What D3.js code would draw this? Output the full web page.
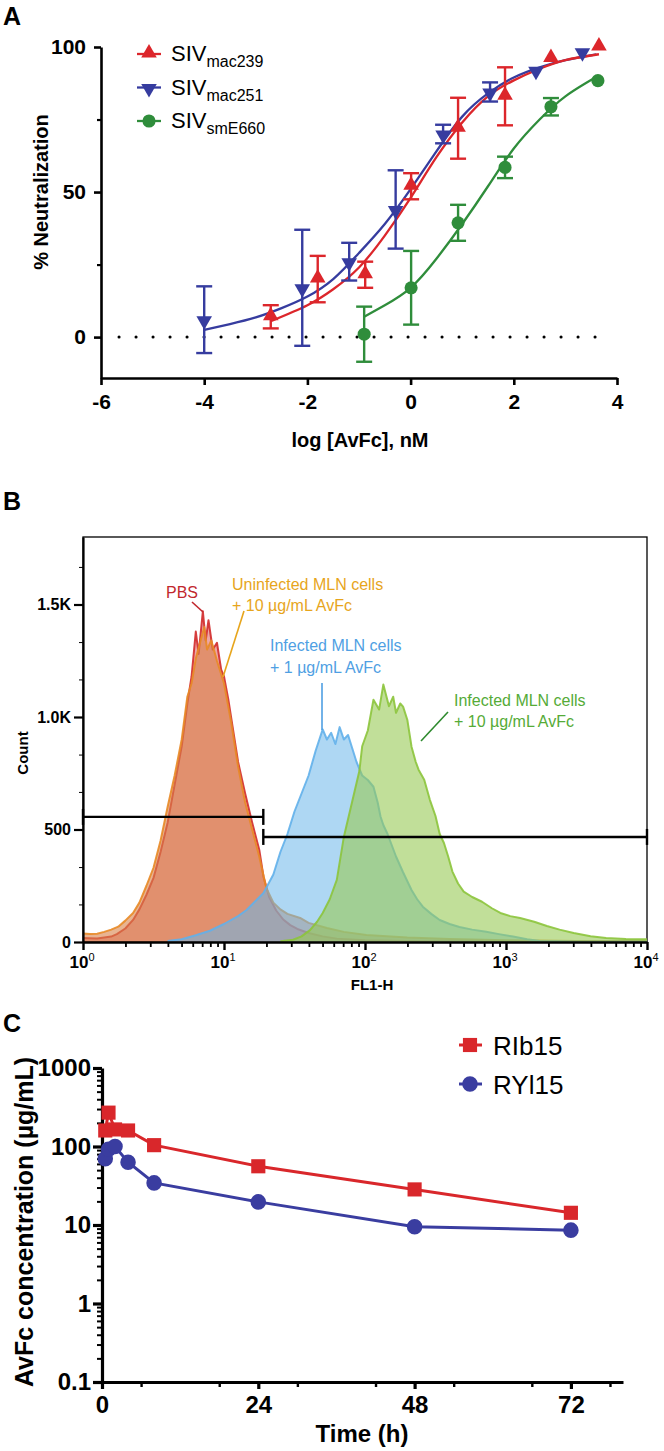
<!DOCTYPE html>
<html><head><meta charset="utf-8">
<script src="https://cdn.jsdelivr.net/npm/d3@7"></script>
<style>body{margin:0;background:#fff}svg{display:block}</style>
</head><body>
<svg id="c" width="664" height="1451"></svg>
<script>
// ---------------- DATA ----------------
// Panel A: neutralization (x = log10 [AvFc] nM, y = % neutralization, err = SD)
const mac239X = [-2.71, -1.80, -0.88, 0.01, 0.92, 1.83, 2.72, 3.65];
const mac239Y = [7, 20, 21.5, 52, 72, 83, 96, 100];
const mac239Err = [4, 8, 4.5, 4.5, 10.5, 10, 0, 0];
const mac251X = [-4.0, -2.1, -1.19, -0.29, 0.63, 1.54, 2.43, 3.33];
const mac251Y = [6, 17, 26, 44, 70, 84.5, 92, 98.4];
const mac251Err = [11.5, 20, 6.5, 13.5, 3.2, 3.3, 0, 0];
const smE660X = [-0.9, 0.01, 0.92, 1.83, 2.72, 3.63];
const smE660Y = [1, 17, 39.4, 58.5, 79.4, 88.4];
const smE660Err = [9.5, 12.7, 6.2, 3.7, 3, 0];
// fitted curves
const fit239X = [-2.71, -2, -1.5, -1, -0.5, 0, 0.5, 1, 1.5, 2, 2.5, 3, 3.65];
const fit239Y = [5.5, 11, 16.5, 24, 35, 48, 62, 74, 83, 88.5, 92.5, 95.5, 97.5];
const fit251X = [-4, -3.5, -3, -2.5, -2, -1.5, -1, -0.5, 0, 0.5, 1, 1.5, 2, 2.5, 3, 3.6];
const fit251Y = [2.5, 4.5, 6.8, 10, 14, 20, 29, 39, 51, 64, 76, 84, 89.5, 93, 95.5, 97.5];
const fitE660X = [-0.9, -0.5, 0, 0.5, 1, 1.5, 2, 2.5, 3, 3.63];
const fitE660Y = [7, 11, 17, 27, 39, 52, 65, 75, 83, 90];
const seriesA = ["SIV|mac239", "SIV|mac251", "SIV|smE660"];
const xTicksA = [-6, -4, -2, 0, 2, 4];
const yTicksA = [0, 50, 100];
const yMinorA = [25, 75];

// Panel B: flow histograms (log10 FL1-H, count)
const pbsHist = [[0,18],[0.1,16],[0.2,24],[0.24,35],[0.3,60],[0.355,98],[0.4,145],[0.45,210],[0.5,285],[0.55,400],[0.6,530],[0.65,700],[0.7,870],[0.74,1060],[0.77,1180],[0.8,1380],[0.82,1280],[0.85,1470],[0.87,1340],[0.89,1430],[0.92,1300],[0.95,1330],[0.98,1210],[1.0,1180],[1.03,1080],[1.06,960],[1.1,800],[1.15,660],[1.2,530],[1.25,410],[1.28,290],[1.32,200],[1.37,140],[1.42,100],[1.47,75],[1.52,58],[1.6,40],[1.7,25],[1.8,15],[2.0,8],[2.3,4],[3,2],[4,2]];
const uninfHist = [[0,38],[0.05,36],[0.1,37],[0.15,45],[0.2,55],[0.25,68],[0.3,95],[0.355,129],[0.4,175],[0.45,250],[0.5,330],[0.55,450],[0.6,600],[0.65,740],[0.7,900],[0.74,1090],[0.77,1150],[0.8,1260],[0.83,1330],[0.86,1400],[0.88,1300],[0.91,1340],[0.95,1250],[1.0,1150],[1.05,980],[1.1,780],[1.15,620],[1.2,500],[1.25,380],[1.3,240],[1.35,175],[1.4,145],[1.45,125],[1.54,107],[1.6,85],[1.73,62],[1.85,45],[2.01,31],[2.3,20],[2.6,13],[3.0,8],[3.5,5],[4,4]];
const inf1Hist = [[0.6,5],[0.7,12],[0.8,30],[0.9,50],[1.0,80],[1.1,115],[1.16,142],[1.22,180],[1.28,218],[1.35,300],[1.4,400],[1.45,480],[1.5,580],[1.55,660],[1.6,740],[1.65,850],[1.7,945],[1.73,900],[1.76,930],[1.79,880],[1.82,955],[1.85,900],[1.88,920],[1.91,860],[1.94,800],[1.98,740],[2.02,720],[2.06,690],[2.09,620],[2.11,558],[2.13,520],[2.16,480],[2.22,380],[2.27,310],[2.33,231],[2.37,190],[2.41,157],[2.47,125],[2.53,98],[2.6,80],[2.67,67],[2.76,55],[2.86,46],[2.95,35],[3.05,24],[3.15,12],[3.24,5],[3.5,2],[4,2]];
const inf10Hist = [[1.4,3],[1.49,10],[1.55,25],[1.61,53],[1.66,90],[1.7,129],[1.75,190],[1.8,276],[1.85,467],[1.9,600],[1.93,680],[1.96,760],[1.98,870],[2.02,940],[2.06,1077],[2.1,1033],[2.13,1144],[2.17,1048],[2.2,1090],[2.22,1019],[2.25,1060],[2.27,1046],[2.3,988],[2.33,868],[2.36,800],[2.38,766],[2.42,721],[2.46,632],[2.5,560],[2.53,480],[2.56,440],[2.59,380],[2.62,313],[2.66,260],[2.7,224],[2.76,200],[2.83,179],[2.9,150],[2.96,129],[3.03,115],[3.1,107],[3.2,90],[3.29,71],[3.38,55],[3.48,40],[3.6,26],[3.71,18],[3.85,13],[4,12]];
const gatesB = [[1, 19, 556], [19, 10000, 467]];
const yTicksB = [0, 500, 1000, 1500];
const yTickLabelsB = ["0", "500", "1.0K", "1.5K"];
const yMinorB = [167, 333, 667, 833, 1167, 1333, 1667];
const xDecadesB = [0, 1, 2, 3, 4];

// Panel C: pharmacokinetics
const pkTimes = [0.5, 1, 2, 4, 8, 24, 48, 72];
const rib15 = [160, 270, 165, 160, 104, 56, 28.4, 14.3];
const ryl15 = [70, 92, 100, 63, 34.4, 19.7, 9.5, 8.6];
const seriesC = ["RIb15", "RYl15"];
const xTicksC = [0, 24, 48, 72];
const yTicksC = [0.1, 1, 10, 100, 1000];
const yTickLabelsC = ["0.1", "1", "10", "100", "1000"];

// ---------------- DRAW ----------------
const svg = d3.select("#c");
const NARROW = "'Liberation Sans Narrow','Arial Narrow','Liberation Sans',Arial,sans-serif";
const SANS = "'Liberation Sans',Arial,Helvetica,sans-serif";
const RED = "#dc262b", BLUE = "#363c9f", GREEN = "#2f8d3b";

function letter(t, x, y) {
  svg.append("text").attr("x", x).attr("y", y).text(t)
    .attr("font-family", SANS).attr("font-weight", "bold").attr("font-size", 25);
}
function styleAxis(g, w, fs, font) {
  g.select(".domain").attr("stroke-width", w).attr("stroke", "#000");
  g.selectAll(".tick line").attr("stroke-width", w).attr("stroke", "#000");
  g.selectAll(".tick text").attr("font-family", font || NARROW).attr("font-weight", "bold")
    .attr("font-size", fs).attr("fill", "#000");
}

// ===== Panel A =====
letter("A", 3, 25);
const xA = d3.scaleLinear().domain([-6, 4]).range([101, 617]);
const yA = d3.scaleLinear().domain([-14.1, 100]).range([378, 47]);
const gA = svg.append("g");

gA.append("line").attr("x1", xA.range()[0] + 18).attr("x2", xA.range()[1] - 6)
  .attr("y1", yA(0)).attr("y2", yA(0)).attr("stroke", "#000").attr("stroke-width", 3)
  .attr("stroke-linecap", "round").attr("stroke-dasharray", "0.1,16.9");

const axA = gA.append("g").attr("transform", `translate(0,${yA.range()[0]})`)
  .call(d3.axisBottom(xA).tickValues(xTicksA).tickSize(7).tickSizeOuter(0).tickPadding(9)
    .tickFormat(d => String(d)));
styleAxis(axA, 2.6, 21);
const ayA = gA.append("g").attr("transform", `translate(${xA.range()[0]},0)`)
  .call(d3.axisLeft(yA).tickValues(yTicksA).tickSize(7).tickSizeOuter(0).tickPadding(8));
styleAxis(ayA, 2.6, 21);
gA.append("g").attr("transform", `translate(${xA.range()[0]},0)`)
  .call(d3.axisLeft(yA).tickValues(yMinorA).tickSize(4).tickFormat(""))
  .call(g => { g.select(".domain").remove(); g.selectAll("line").attr("stroke-width", 2.2); });

gA.append("text").attr("transform", `translate(48,192) rotate(-90)`).attr("text-anchor", "middle")
  .attr("font-family", SANS).attr("font-weight", "bold").attr("font-size", 20).text("% Neutralization");
gA.append("text").attr("x", 360).attr("y", 447).attr("text-anchor", "middle")
  .attr("font-family", SANS).attr("font-weight", "bold").attr("font-size", 20).text("log [AvFc], nM");

const triUp = d3.symbol().type(d3.symbolTriangle).size(105);
const circ = d3.symbol().type(d3.symbolCircle).size(135);
const curveLine = d3.line().x(d => xA(d[0])).y(d => yA(d[1])).curve(d3.curveNatural);

const setsA = [
  { name: seriesA[1], X: mac251X, Y: mac251Y, E: mac251Err, fX: fit251X, fY: fit251Y, color: BLUE, sym: "down" },
  { name: seriesA[0], X: mac239X, Y: mac239Y, E: mac239Err, fX: fit239X, fY: fit239Y, color: RED, sym: "up" },
  { name: seriesA[2], X: smE660X, Y: smE660Y, E: smE660Err, fX: fitE660X, fY: fitE660Y, color: GREEN, sym: "circle" }
];
setsA.forEach(s => {
  gA.append("path").attr("d", curveLine(s.fX.map((x, i) => [x, s.fY[i]])))
    .attr("fill", "none").attr("stroke", s.color).attr("stroke-width", 2.3);
});
setsA.forEach(s => {
  const g = gA.append("g");
  s.X.forEach((x, i) => {
    const e = s.E[i];
    if (e > 0) {
      const cx = xA(x);
      g.append("line").attr("x1", cx).attr("x2", cx).attr("y1", yA(s.Y[i] - e)).attr("y2", yA(s.Y[i] + e))
        .attr("stroke", s.color).attr("stroke-width", 2.4);
      [s.Y[i] - e, s.Y[i] + e].forEach(v => g.append("line").attr("x1", cx - 8).attr("x2", cx + 8)
        .attr("y1", yA(v)).attr("y2", yA(v)).attr("stroke", s.color).attr("stroke-width", 2.4));
    }
  });
  s.X.forEach((x, i) => {
    const p = g.append("path").attr("fill", s.color);
    if (s.sym === "circle") p.attr("d", circ()).attr("transform", `translate(${xA(x)},${yA(s.Y[i])})`);
    else if (s.sym === "up") p.attr("d", triUp()).attr("transform", `translate(${xA(x)},${yA(s.Y[i]) - 1})`);
    else p.attr("d", triUp()).attr("transform", `translate(${xA(x)},${yA(s.Y[i]) + 1}) rotate(180)`);
  });
});
const legA = [setsA[1], setsA[0], setsA[2]];
legA.forEach((s, i) => {
  const y = 54 + i * 33.5;
  gA.append("line").attr("x1", 137).attr("x2", 161).attr("y1", y).attr("y2", y)
    .attr("stroke", s.color).attr("stroke-width", 2.3);
  const p = gA.append("path").attr("fill", s.color);
  if (s.sym === "circle") p.attr("d", circ()).attr("transform", `translate(149,${y})`);
  else if (s.sym === "up") p.attr("d", triUp()).attr("transform", `translate(149,${y - 1})`);
  else p.attr("d", triUp()).attr("transform", `translate(149,${y + 1}) rotate(180)`);
  const [main, sub] = s.name.split("|");
  const t = gA.append("text").attr("x", 171).attr("y", y + 7).attr("font-family", SANS)
    .attr("font-size", 22).attr("fill", "#000");
  t.append("tspan").text(main);
  t.append("tspan").attr("dy", 6).attr("font-size", 16).text(sub);
});

// ===== Panel B =====
letter("B", 3, 510);
const xB = d3.scaleLog().domain([1, 1e4]).range([83, 647]);
const yB = d3.scaleLinear().domain([0, 1800]).range([942, 537]);
const gB = svg.append("g");
gB.append("rect").attr("x", xB.range()[0]).attr("y", yB.range()[1])
  .attr("width", xB.range()[1] - xB.range()[0]).attr("height", yB.range()[0] - yB.range()[1])
  .attr("fill", "none").attr("stroke", "#000").attr("stroke-width", 1.3);

const area = d3.area().x(d => xB(Math.pow(10, d[0]))).y0(yB(0)).y1(d => yB(d[1]));
const lineB = d3.line().x(d => xB(Math.pow(10, d[0]))).y(d => yB(d[1]));
const hists = [
  { data: pbsHist, fill: "#d63a3a", fo: 0.45, stroke: "#d22b2b" },
  { data: uninfHist, fill: "#d9824a", fo: 0.6, stroke: "#e88a26" },
  { data: inf1Hist, fill: "#6cb6ea", fo: 0.55, stroke: "#62b0ea" },
  { data: inf10Hist, fill: "#98c955", fo: 0.6, stroke: "#8cc43c" }
];
hists.forEach(h => {
  gB.append("path").attr("d", area(h.data)).attr("fill", h.fill).attr("fill-opacity", h.fo);
  gB.append("path").attr("d", lineB(h.data)).attr("fill", "none").attr("stroke", h.stroke)
    .attr("stroke-width", 2).attr("stroke-opacity", 0.9).attr("stroke-linejoin", "round");
});

gatesB.forEach(([a, b, lv]) => {
  const y = yB(lv);
  gB.append("line").attr("x1", xB(a)).attr("x2", xB(b)).attr("y1", y).attr("y2", y)
    .attr("stroke", "#000").attr("stroke-width", 2.4);
  [a, b].forEach(v => gB.append("line").attr("x1", xB(v)).attr("x2", xB(v)).attr("y1", y - 8).attr("y2", y + 8)
    .attr("stroke", "#000").attr("stroke-width", 2.4));
});

const ayB = gB.append("g").attr("transform", `translate(${xB.range()[0]},0)`)
  .call(d3.axisLeft(yB).tickValues(yTicksB).tickSize(9).tickSizeOuter(0).tickPadding(3)
    .tickFormat((d, i) => yTickLabelsB[i]));
styleAxis(ayB, 2.2, 16, SANS);
gB.append("g").attr("transform", `translate(${xB.range()[0]},0)`)
  .call(d3.axisLeft(yB).tickValues(yMinorB).tickSize(4).tickFormat(""))
  .call(g => { g.select(".domain").remove(); g.selectAll("line").attr("stroke-width", 1); });

const minorB = [];
xDecadesB.slice(0, -1).forEach(d => { for (let k = 2; k <= 9; k++) minorB.push(k * Math.pow(10, d)); });
gB.append("g").attr("transform", `translate(0,${yB.range()[0]})`)
  .call(d3.axisBottom(xB).tickValues(minorB).tickSize(5).tickFormat(""))
  .call(g => { g.select(".domain").remove(); g.selectAll("line").attr("stroke-width", 1.8); });
const axB = gB.append("g").attr("transform", `translate(0,${yB.range()[0]})`)
  .call(d3.axisBottom(xB).tickValues(xDecadesB.map(d => Math.pow(10, d))).tickSize(8).tickSizeOuter(0).tickFormat(""));
styleAxis(axB, 2.4, 16);
xDecadesB.forEach(d => {
  const t = gB.append("text").attr("x", xB(Math.pow(10, d)) - 1).attr("y", 968).attr("text-anchor", "middle")
    .attr("font-family", NARROW).attr("font-weight", "bold").attr("font-size", 17);
  t.append("tspan").text("10");
  t.append("tspan").attr("dy", -7).attr("font-size", 11).attr("font-weight", "normal").text(String(d));
});
gB.append("text").attr("x", 372).attr("y", 990).attr("text-anchor", "middle")
  .attr("font-family", SANS).attr("font-weight", "bold").attr("font-size", 15).text("FL1-H");
gB.append("text").attr("transform", "translate(28,753) rotate(-90)").attr("text-anchor", "middle")
  .attr("font-family", SANS).attr("font-weight", "bold").attr("font-size", 15).text("Count");

function ann(lines, x, y, color, lh) {
  const t = gB.append("text").attr("font-family", SANS).attr("font-size", 16).attr("fill", color);
  lines.forEach((l, i) => t.append("tspan").attr("x", x).attr("y", y + i * lh).text(l));
}
function lead(x1, y1, x2, y2, color) {
  gB.append("line").attr("x1", x1).attr("y1", y1).attr("x2", x2).attr("y2", y2)
    .attr("stroke", color).attr("stroke-width", 1.6);
}
ann(["PBS"], 166, 598, "#c1272d", 20);
lead(192, 602, 203, 612, "#c1272d");
ann(["Uninfected MLN cells", "+ 10 \u00b5g/mL AvFc"], 232, 590, "#e7a51c", 20.5);
lead(244, 611, 223, 677, "#e7a51c");
ann(["Infected MLN cells", "+ 1 \u00b5g/mL AvFc"], 270, 651, "#4f9fe3", 21.5);
lead(322, 683, 322, 730, "#4f9fe3");
ann(["Infected MLN cells", "+ 10 \u00b5g/mL AvFc"], 454, 706, "#55ab37", 21);
lead(448, 712, 421, 741, "#2e8a2e");

// ===== Panel C =====
letter("C", 3, 1032);
const xC = d3.scaleLinear().domain([0, 80]).range([102, 623]);
const yC = d3.scaleLog().domain([0.1, 1000]).range([1382, 1068]);
const gC = svg.append("g");
const minorC = [];
[0.1, 1, 10, 100].forEach(d => { for (let k = 2; k <= 9; k++) minorC.push(k * d); });
gC.append("g").attr("transform", `translate(${xC.range()[0]},0)`)
  .call(d3.axisLeft(yC).tickValues(minorC).tickSize(5).tickFormat(""))
  .call(g => { g.select(".domain").remove(); g.selectAll("line").attr("stroke-width", 2); });
const ayC = gC.append("g").attr("transform", `translate(${xC.range()[0]},0)`)
  .call(d3.axisLeft(yC).tickValues(yTicksC).tickSize(9).tickSizeOuter(0).tickPadding(2)
    .tickFormat((d, i) => yTickLabelsC[i]));
styleAxis(ayC, 3.2, 24);
gC.append("g").attr("transform", `translate(0,${yC.range()[0]})`)
  .call(d3.axisBottom(xC).tickValues(d3.range(6, 80, 12)).tickSize(5).tickFormat(""))
  .call(g => { g.select(".domain").remove(); g.selectAll("line").attr("stroke-width", 2.4); });
const axC = gC.append("g").attr("transform", `translate(0,${yC.range()[0]})`)
  .call(d3.axisBottom(xC).tickValues(xTicksC).tickSize(7).tickSizeOuter(0).tickPadding(7));
styleAxis(axC, 3.2, 24);

gC.append("text").attr("transform", "translate(33,1222) rotate(-90)").attr("text-anchor", "middle")
  .attr("font-family", NARROW).attr("font-weight", "bold").attr("font-size", 25)
  .text("AvFc concentration (\u00b5g/mL)");
gC.append("text").attr("x", 362).attr("y", 1442).attr("text-anchor", "middle")
  .attr("font-family", NARROW).attr("font-weight", "bold").attr("font-size", 24).text("Time (h)");

const lineC = d3.line().x(d => xC(d[0])).y(d => yC(d[1]));
const sq = d3.symbol().type(d3.symbolSquare).size(200);
const circC = d3.symbol().type(d3.symbolCircle).size(190);
const setsC = [
  { name: seriesC[1], vals: ryl15, color: "#3a3da0", sym: circC },
  { name: seriesC[0], vals: rib15, color: "#d9272b", sym: sq }
];
setsC.forEach(s => {
  const pts = pkTimes.map((t, i) => [t, s.vals[i]]);
  gC.append("path").attr("d", lineC(pts)).attr("fill", "none").attr("stroke", s.color).attr("stroke-width", 3);
  pts.forEach(p => gC.append("path").attr("d", s.sym()).attr("fill", s.color)
    .attr("transform", `translate(${xC(p[0])},${yC(p[1])})`));
});
[setsC[1], setsC[0]].forEach((s, i) => {
  const y = 1045 + i * 39;
  gC.append("line").attr("x1", 459).attr("x2", 482).attr("y1", y).attr("y2", y)
    .attr("stroke", s.color).attr("stroke-width", 3);
  gC.append("path").attr("d", s.sym()).attr("fill", s.color).attr("transform", `translate(470,${y})`);
  gC.append("text").attr("x", 493).attr("y", y + 9.5).attr("font-family", SANS).attr("font-size", 26)
    .text(s.name);
});
</script>
</body></html>
